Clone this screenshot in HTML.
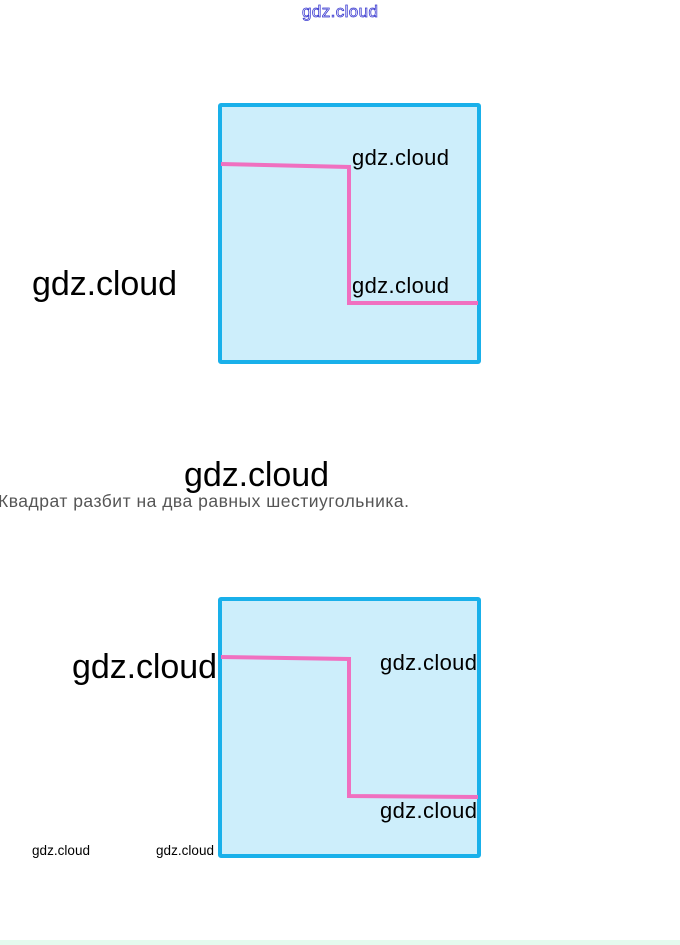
<!DOCTYPE html>
<html><head><meta charset="utf-8"><style>
body{margin:0;width:680px;height:945px;background:#fff;overflow:hidden;position:relative}
svg{position:absolute;left:0;top:0}
</style></head><body>
<svg width="680" height="945" viewBox="0 0 680 945" font-family="Liberation Sans, sans-serif">
<text x="302" y="17" font-size="17" fill="#fff" stroke="#3a3ad0" stroke-width="0.8" textLength="76">gdz.cloud</text>
<rect x="220" y="105" width="259" height="257" fill="#cdeefb" stroke="#19b0ea" stroke-width="4" rx="1"/>
<polyline points="221,164 349,167 349,303 478,303" fill="none" stroke="#f070c0" stroke-width="4"/>
<text x="352" y="165" font-size="22" fill="#000" textLength="97">gdz.cloud</text>
<text x="352" y="293" font-size="22" fill="#000" textLength="97">gdz.cloud</text>
<text x="32" y="295" font-size="34" fill="#000" textLength="145">gdz.cloud</text>
<text x="184" y="486" font-size="34" fill="#000" textLength="145">gdz.cloud</text>
<text x="-2" y="507" font-size="17.5" fill="#555" textLength="411">Квадрат разбит на два равных шестиугольника.</text>
<rect x="220" y="599" width="259" height="257" fill="#cdeefb" stroke="#19b0ea" stroke-width="4" rx="1"/>
<polyline points="221,657 349,659 349,796 478,797" fill="none" stroke="#f070c0" stroke-width="4"/>
<text x="72" y="678" font-size="34" fill="#000" textLength="145">gdz.cloud</text>
<text x="380" y="670" font-size="22" fill="#000" textLength="97">gdz.cloud</text>
<text x="380" y="818" font-size="22" fill="#000" textLength="97">gdz.cloud</text>
<text x="32" y="855" font-size="13.5" fill="#000" textLength="58">gdz.cloud</text>
<text x="156" y="855" font-size="13.5" fill="#000" textLength="58">gdz.cloud</text>
<rect x="0" y="940" width="680" height="5" fill="#e4fbee"/>
</svg>
</body></html>
